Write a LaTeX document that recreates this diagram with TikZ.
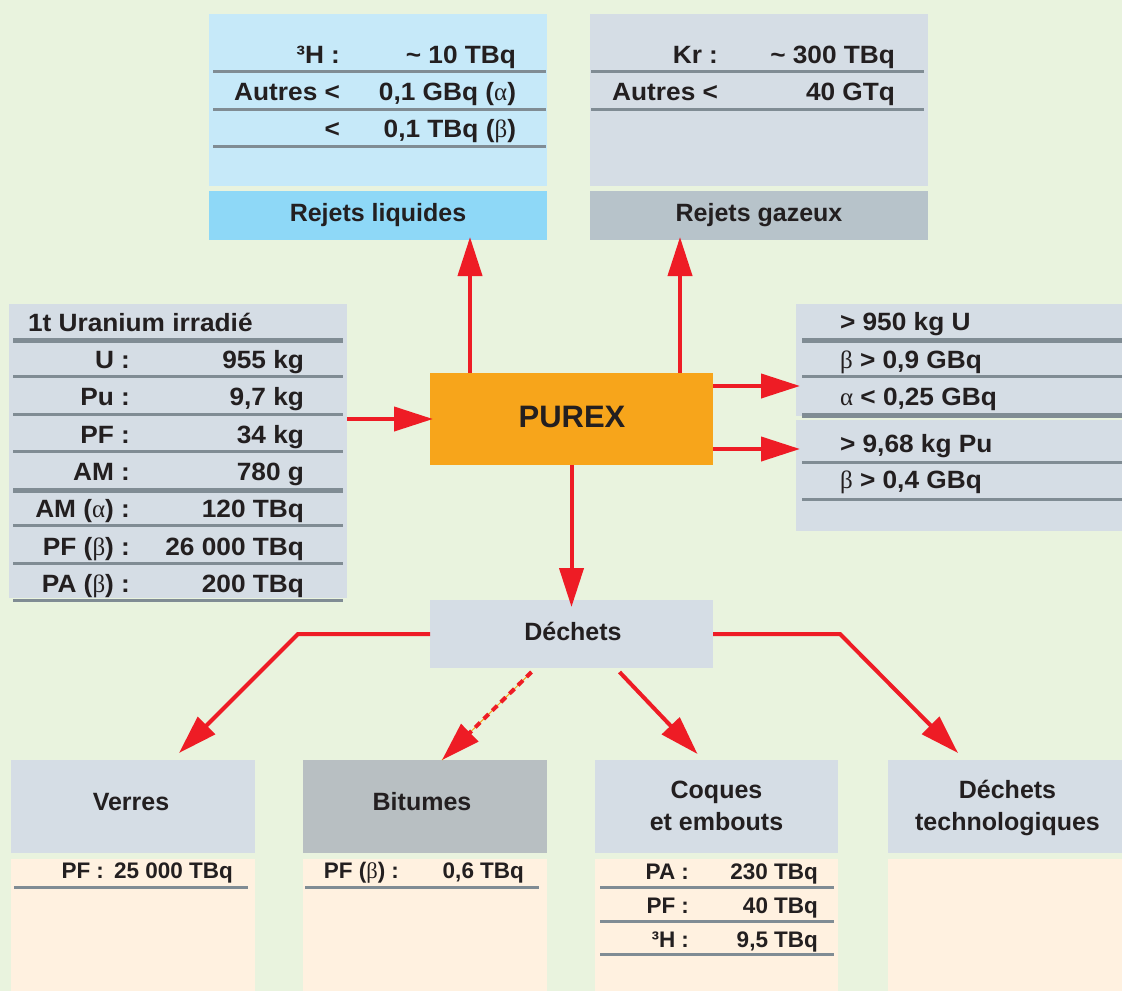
\documentclass[tikz,border=0pt]{standalone}
\usepackage{fontspec}
\setmainfont{Liberation Sans}
\newfontfamily\tabfont[FakeStretch=1.05]{Liberation Sans}
\newfontfamily\grk{Liberation Serif}
\usetikzlibrary{arrows.meta}
\definecolor{bg}{RGB}{233,243,222}
\definecolor{lblue}{RGB}{198,233,249}
\definecolor{mblue}{RGB}{142,216,247}
\definecolor{gbox}{RGB}{213,221,229}
\definecolor{gbar}{RGB}{183,195,202}
\definecolor{bitu}{RGB}{184,191,194}
\definecolor{cream}{RGB}{255,241,224}
\definecolor{orng}{RGB}{247,165,27}
\definecolor{rulec}{RGB}{128,140,148}
\definecolor{redc}{RGB}{238,28,37}
\definecolor{ink}{RGB}{35,31,32}
\newcommand\gal{{\grk\mdseries α}}
\newcommand\gbe{{\grk\mdseries β}}
\newcommand\tld{\textasciitilde}
\begin{document}
\begin{tikzpicture}[x=1pt,y=-1pt,
  box/.style={inner sep=0pt,outer sep=0pt,anchor=north west,draw=none},
  txt/.style={inner sep=0pt,outer sep=0pt,font=\tabfont\fontsize{25}{29}\selectfont\bfseries,text=ink},
  htxt/.style={txt,font=\fontsize{25}{29}\selectfont\bfseries},
  stxt/.style={txt,font=\fontsize{22.5}{26}\selectfont\bfseries},
  hrule/.style={draw=rulec,line width=3pt},
  Hrule/.style={draw=rulec,line width=5pt},
  arr/.style={draw=redc,line width=4pt,-{Triangle[length=39pt,width=24pt]}},
]
\useasboundingbox (0,0) rectangle (1122,991);
\fill[bg] (0,0) rectangle (1122,991);

% ---- Rejets liquides
\node[box,fill=lblue,minimum width=338pt,minimum height=172pt] (liq) at (209,14) {};
\node[box,fill=mblue,minimum width=338pt,minimum height=49pt] (liqt) at (209,191) {};
\node[htxt,anchor=base] (liqtt) at (378,221) {Rejets liquides};
\node[txt,anchor=base east] (lq1l) at (340,63) {³H :};
\node[txt,anchor=base east] (lq1v) at (516,63) {\tld\ 10 TBq};
\draw[hrule] (213,71) -- (546,71);
\node[txt,anchor=base east] (lq2l) at (340,100) {Autres <};
\node[txt,anchor=base east] (lq2v) at (516,100) {0,1 GBq (\gal)};
\draw[hrule] (213,109) -- (546,109);
\node[txt,anchor=base east] (lq3l) at (340,137) {<};
\node[txt,anchor=base east] (lq3v) at (516,137) {0,1 TBq (\gbe)};
\draw[hrule] (213,146) -- (546,146);

% ---- Rejets gazeux
\node[box,fill=gbox,minimum width=338pt,minimum height=172pt] (gas) at (590,14) {};
\node[box,fill=gbar,minimum width=338pt,minimum height=49pt] (gast) at (590,191) {};
\node[htxt,anchor=base] (gastt) at (759,221) {Rejets gazeux};
\node[txt,anchor=base east] (gs1l) at (718,63) {Kr :};
\node[txt,anchor=base east] (gs1v) at (895,63) {\tld\ 300 TBq};
\draw[hrule] (591,71) -- (924,71);
\node[txt,anchor=base east] (gs2l) at (718,100) {Autres <};
\node[txt,anchor=base east] (gs2v) at (895,100) {40 GTq};
\draw[hrule] (591,109) -- (924,109);

% ---- Uranium irradie
\node[box,fill=gbox,minimum width=338pt,minimum height=294pt] (unbox) at (9,304) {};
\node[txt,anchor=base west] (untitle) at (28,331) {1t Uranium irradié};
\draw[Hrule] (13,340.5) -- (343,340.5);
\node[txt,anchor=base east] (u1l) at (130,368) {U :};
\node[txt,anchor=base east] (u1v) at (304,368) {955 kg};
\draw[hrule] (13,376) -- (343,376);
\node[txt,anchor=base east] (u2l) at (130,405) {Pu :};
\node[txt,anchor=base east] (u2v) at (304,405) {9,7 kg};
\draw[hrule] (13,414) -- (343,414);
\node[txt,anchor=base east] (u3l) at (130,443) {PF :};
\node[txt,anchor=base east] (u3v) at (304,443) {34 kg};
\draw[hrule] (13,451) -- (343,451);
\node[txt,anchor=base east] (u4l) at (130,480) {AM :};
\node[txt,anchor=base east] (u4v) at (304,480) {780 g};
\draw[Hrule] (13,490) -- (343,490);
\node[txt,anchor=base east] (u5l) at (130,517) {AM (\gal) :};
\node[txt,anchor=base east] (u5v) at (304,517) {120 TBq};
\draw[hrule] (13,525) -- (343,525);
\node[txt,anchor=base east] (u6l) at (130,555) {PF (\gbe) :};
\node[txt,anchor=base east] (u6v) at (304,555) {26 000 TBq};
\draw[hrule] (13,563) -- (343,563);
\node[txt,anchor=base east] (u7l) at (130,592) {PA (\gbe) :};
\node[txt,anchor=base east] (u7v) at (304,592) {200 TBq};
\draw[hrule] (13,600) -- (343,600);

% ---- PUREX
\node[box,fill=orng,minimum width=283pt,minimum height=92pt] (purex) at (430,373) {};
\node[txt,anchor=base,font=\fontsize{31}{35}\selectfont\bfseries] (purext) at (572,427) {PUREX};

% ---- right outputs
\node[box,fill=gbox,minimum width=326pt,minimum height=112pt] (r1) at (796,304) {};
\node[box,fill=gbox,minimum width=326pt,minimum height=111pt] (r2) at (796,420) {};
\node[txt,anchor=base west] (r1a) at (840,330) {> 950 kg U};
\draw[Hrule] (802,340) -- (1122,340);
\node[txt,anchor=base west] (r1b) at (840,368) {\gbe{} > 0,9 GBq};
\draw[hrule] (802,376) -- (1122,376);
\node[txt,anchor=base west] (r1c) at (840,405) {\gal{} < 0,25 GBq};
\draw[Hrule] (802,415) -- (1122,415);
\node[txt,anchor=base west] (r2a) at (840,452) {> 9,68 kg Pu};
\draw[hrule] (802,462) -- (1122,462);
\node[txt,anchor=base west] (r2b) at (840,488) {\gbe{} > 0,4 GBq};
\draw[hrule] (802,499) -- (1122,499);

% ---- Dechets
\node[box,fill=gbox,minimum width=283pt,minimum height=68pt] (dechets) at (430,600) {};
\node[htxt,anchor=base] (dechetst) at (573,640) {Déchets};

% ---- bottom boxes
\node[box,fill=gbox,minimum width=244pt,minimum height=93pt] (verres) at (11,760) {};
\node[box,fill=bitu,minimum width=244pt,minimum height=93pt] (bitumes) at (303,760) {};
\node[box,fill=gbox,minimum width=243pt,minimum height=93pt] (coques) at (595,760) {};
\node[box,fill=gbox,minimum width=234pt,minimum height=93pt] (dtech) at (888,760) {};
\node[box,fill=cream,minimum width=244pt,minimum height=132pt] (verresc) at (11,859) {};
\node[box,fill=cream,minimum width=244pt,minimum height=132pt] (bitumesc) at (303,859) {};
\node[box,fill=cream,minimum width=243pt,minimum height=132pt] (coquesc) at (595,859) {};
\node[box,fill=cream,minimum width=234pt,minimum height=132pt] (dtechc) at (888,859) {};

\node[htxt,anchor=base] (verrest) at (131,810) {Verres};
\node[htxt,anchor=base] (bitumest) at (422,810) {Bitumes};
\node[htxt,anchor=base] (coquest1) at (716.5,798) {Coques};
\node[htxt,anchor=base] (coquest2) at (716.5,830) {et embouts};
\node[htxt,anchor=base] (dtecht1) at (1007.5,798) {Déchets};
\node[htxt,anchor=base] (dtecht2) at (1007.5,830) {technologiques};

\node[stxt,anchor=base east] (v1l) at (104,878) {PF :};
\node[stxt,anchor=base east] (v1v) at (233,878) {25 000 TBq};
\draw[hrule] (14,887) -- (248,887);
\node[stxt,anchor=base east] (b1l) at (399,878) {PF (\gbe) :};
\node[stxt,anchor=base east] (b1v) at (524,878) {0,6 TBq};
\draw[hrule] (305,887) -- (539,887);
\node[stxt,anchor=base east] (c1l) at (689,879) {PA :};
\node[stxt,anchor=base east] (c1v) at (818,879) {230 TBq};
\draw[hrule] (600,887) -- (834,887);
\node[stxt,anchor=base east] (c2l) at (689,913) {PF :};
\node[stxt,anchor=base east] (c2v) at (818,913) {40 TBq};
\draw[hrule] (600,921) -- (834,921);
\node[stxt,anchor=base east] (c3l) at (689,947) {³H :};
\node[stxt,anchor=base east] (c3v) at (818,947) {9,5 TBq};
\draw[hrule] (600,954) -- (834,954);

% ---- connectors
\draw[arr,shorten >=-3pt] ([xshift=40pt]purex.north west) -- ([xshift=40pt]purex.north west |- liqt.south);
\draw[arr,shorten >=-3pt] ([xshift=-33pt]purex.north east) -- ([xshift=-33pt]purex.north east |- gast.south);
\draw[arr,shorten >=-3pt] (purex.west -| unbox.east) -- (purex.west);
\draw[arr,shorten >=-4pt] ([yshift=33pt]purex.east) -- ([yshift=33pt]purex.east -| r1.west);
\draw[arr,shorten >=-4pt] ([yshift=-30pt]purex.east) -- ([yshift=-30pt]purex.east -| r2.west);
\draw[arr,shorten >=-7pt] (purex.south) -- (dechets.north);

\coordinate (lbend) at (298,634);
\coordinate (rbend) at (840,634);
\draw[arr] (dechets.west) -- (lbend) -- ([xshift=46pt,yshift=7pt]verres.north);
\draw[arr] (dechets.east) -- (rbend) -- ([xshift=-47pt,yshift=7pt]dtech.north);
\draw[draw=orng,line width=1pt] ([xshift=-40pt,yshift=-4pt]dechets.south) -- ([xshift=17pt]bitumes.north);
\draw[arr,dash pattern=on 7pt off 5pt] ([xshift=-40pt,yshift=-4pt]dechets.south) -- ([xshift=17pt]bitumes.north);
\draw[arr] ([xshift=48pt,yshift=-4pt]dechets.south) -- ([xshift=-19pt,yshift=6pt]coques.north);
\end{tikzpicture}
\end{document}
